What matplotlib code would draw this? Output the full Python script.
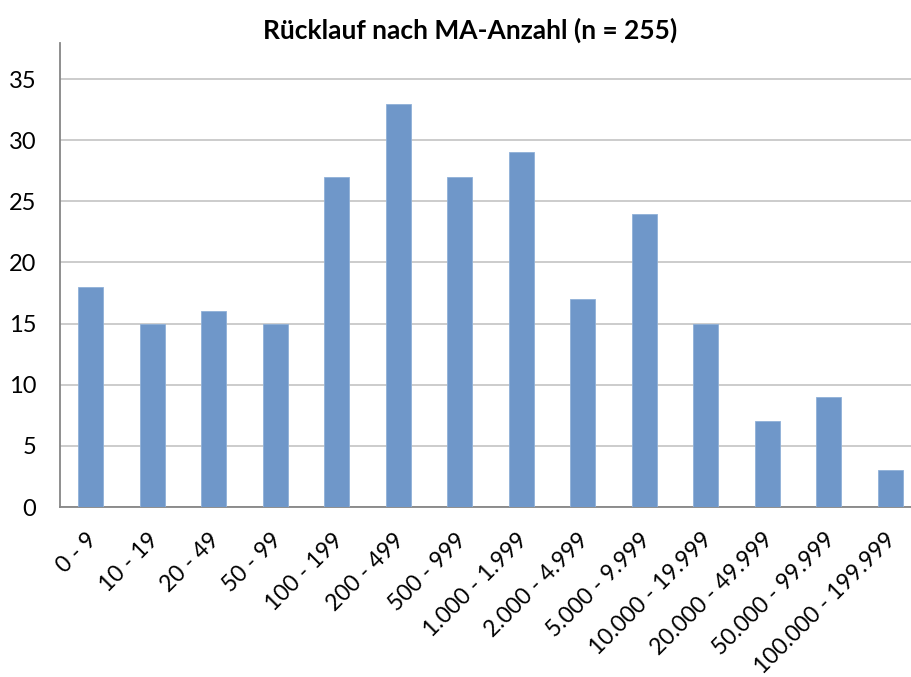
import matplotlib
matplotlib.use('Agg')
from matplotlib import pyplot as plt
from matplotlib import transforms

categories = ['0 - 9', '10 - 19', '20 - 49', '50 - 99', '100 - 199', '200 - 499',
              '500 - 999', '1.000 - 1.999', '2.000 - 4.999', '5.000 - 9.999',
              '10.000 - 19.999', '20.000 - 49.999', '50.000 - 99.999',
              '100.000 - 199.999']
counts = [18, 15, 16, 15, 27, 33, 27, 29, 17, 24, 15, 7, 9, 3]
y_ticks = [0, 5, 10, 15, 20, 25, 30, 35]

plt.rcParams['font.family'] = ['Lato', 'DejaVu Sans']

fig = plt.figure(figsize=(9.12, 6.77), dpi=100)
# axes run a little past the right edge, as in the original export
ax = fig.add_axes([60 / 912, 1 - 507 / 677, 861 / 912, 464 / 677])

x = range(len(categories))
ax.bar(x, counts, width=0.4, color='#6f97c9', edgecolor='#8fb0d8', linewidth=0.6, zorder=3)

ax.set_xlim(-0.5, len(categories) - 0.5)
ax.set_ylim(0, 37.95)
ax.set_yticks(y_ticks)
ax.yaxis.grid(True, color='#c4c4c4', linewidth=1.2, zorder=0)
ax.set_axisbelow(True)

ax.set_xticks(list(x))
ax.set_xticklabels(categories, rotation=45, ha='right', rotation_mode='anchor', fontsize=16.5)
ax.tick_params(axis='y', labelsize=17, length=0, pad=17)
ax.tick_params(axis='x', length=0, pad=16)
# nudge the slanted labels a bit to the left, like excel does
shift = transforms.ScaledTranslation(-0.05, 0, fig.dpi_scale_trans)
for lbl in ax.get_xticklabels():
    lbl.set_transform(lbl.get_transform() + shift)

for side in ['top', 'right']:
    ax.spines[side].set_visible(False)
for side in ['left', 'bottom']:
    ax.spines[side].set_color('#868686')
    ax.spines[side].set_linewidth(1.3)

fig.text(470 / 912, 1 - 30 / 677, 'Rücklauf nach MA-Anzahl (n = 255)', ha='center', va='center',
         fontsize=19, fontweight='bold')

fig.savefig('out.png', dpi=100)
